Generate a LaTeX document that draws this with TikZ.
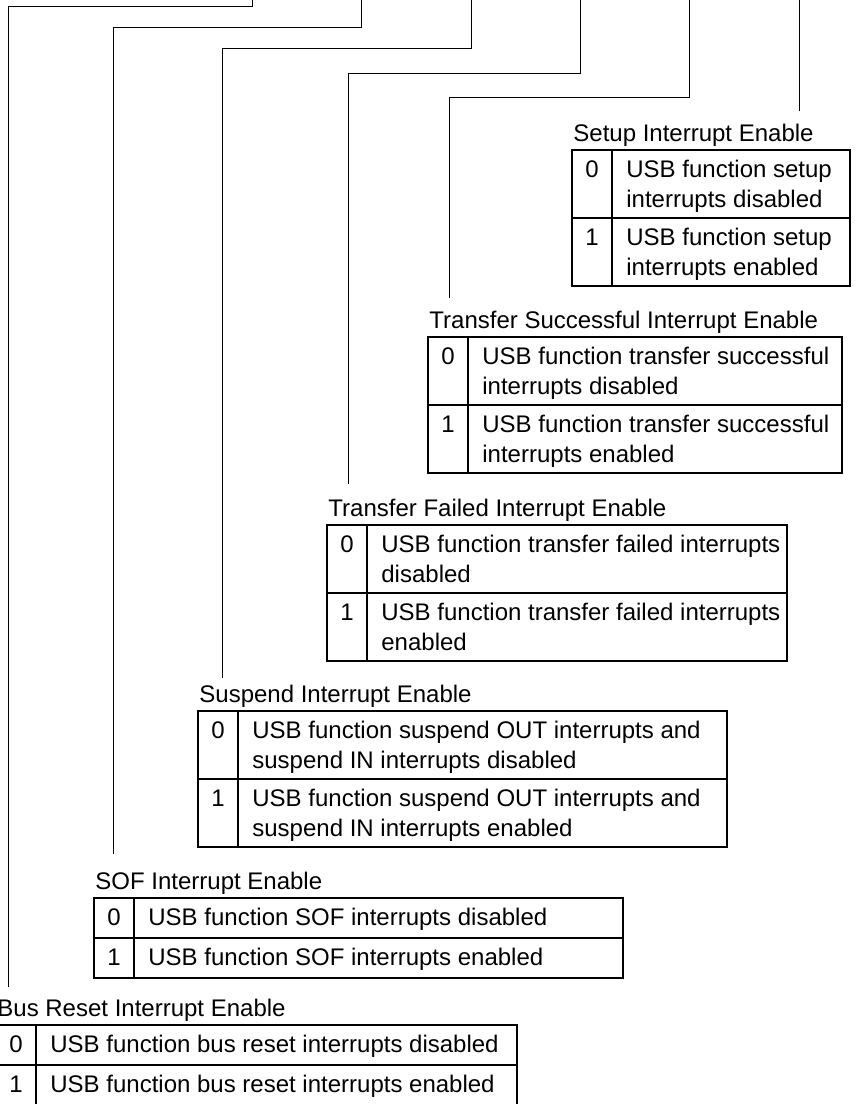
\documentclass[tikz,border=0pt]{standalone}
\usepackage{fontspec}
\setmainfont{Liberation Sans}
\tikzset{
  lead/.style={draw, line width=0.5pt},
  tbl/.style={line width=0.6pt},
  lbl/.style={anchor=base west, inner sep=0pt},
  bit/.style={anchor=base, inner sep=0pt},
  desc/.style={anchor=north west, align=left, inner xsep=7pt, inner ysep=5pt},
}

\begin{document}
\begin{tikzpicture}[x=0.5pt, y=-0.5pt, font=\fontsize{12}{15}\selectfont]
\useasboundingbox (0,0) rectangle (859,1104);

% Setup Interrupt Enable
\node[lbl] (setup) at (573,141) {Setup Interrupt Enable};
\draw[tbl] (572,150) rectangle (850,286);
\draw[tbl] (572,218) -- (850,218);
\draw[tbl] (612,150) -- (612,286);
\node[bit] (setup0) at (592,177.5) {0};
\node[desc] (setup0t) at (612,150) {USB function setup\\interrupts disabled};
\node[bit] (setup1) at (592,245.5) {1};
\node[desc] (setup1t) at (612,218) {USB function setup\\interrupts enabled};

% Transfer Successful Interrupt Enable
\node[lbl] (tsucc) at (429,328) {Transfer Successful Interrupt Enable};
\draw[tbl] (428,337) rectangle (842,473);
\draw[tbl] (428,405) -- (842,405);
\draw[tbl] (468,337) -- (468,473);
\node[bit] (tsucc0) at (448,364.5) {0};
\node[desc] (tsucc0t) at (468,337) {USB function transfer successful\\interrupts disabled};
\node[bit] (tsucc1) at (448,432.5) {1};
\node[desc] (tsucc1t) at (468,405) {USB function transfer successful\\interrupts enabled};

% Transfer Failed Interrupt Enable
\node[lbl] (tfail) at (328,516) {Transfer Failed Interrupt Enable};
\draw[tbl] (327,525) rectangle (787,661);
\draw[tbl] (327,593) -- (787,593);
\draw[tbl] (367,525) -- (367,661);
\node[bit] (tfail0) at (347,552.5) {0};
\node[desc] (tfail0t) at (367,525) {USB function transfer failed interrupts\\disabled};
\node[bit] (tfail1) at (347,620.5) {1};
\node[desc] (tfail1t) at (367,593) {USB function transfer failed interrupts\\enabled};

% Suspend Interrupt Enable
\node[lbl] (susp) at (199,702) {Suspend Interrupt Enable};
\draw[tbl] (198,711) rectangle (727,847);
\draw[tbl] (198,779) -- (727,779);
\draw[tbl] (238,711) -- (238,847);
\node[bit] (susp0) at (218,738.5) {0};
\node[desc] (susp0t) at (238,711) {USB function suspend OUT interrupts and\\suspend IN interrupts disabled};
\node[bit] (susp1) at (218,806.5) {1};
\node[desc] (susp1t) at (238,779) {USB function suspend OUT interrupts and\\suspend IN interrupts enabled};

% SOF Interrupt Enable
\node[lbl] (sof) at (95,889) {SOF Interrupt Enable};
\draw[tbl] (94,898) rectangle (623,978);
\draw[tbl] (94,938) -- (623,938);
\draw[tbl] (134,898) -- (134,978);
\node[bit] (sof0) at (114,925.5) {0};
\node[desc] (sof0t) at (134,898) {USB function SOF interrupts disabled};
\node[bit] (sof1) at (114,965.5) {1};
\node[desc] (sof1t) at (134,938) {USB function SOF interrupts enabled};

% Bus Reset Interrupt Enable
\node[lbl] (bus) at (-3,1016) {Bus Reset Interrupt Enable};
\draw[tbl] (-4,1025) rectangle (517,1105);
\draw[tbl] (-4,1065) -- (517,1065);
\draw[tbl] (36,1025) -- (36,1105);
\node[bit] (bus0) at (16,1052.5) {0};
\node[desc] (bus0t) at (36,1025) {USB function bus reset interrupts disabled};
\node[bit] (bus1) at (16,1092.5) {1};
\node[desc] (bus1t) at (36,1065) {USB function bus reset interrupts enabled};

% leads from the register bits
\coordinate (t1) at (252,0);
\coordinate (k1) at (8,6);
\coordinate (t2) at (361,0);
\coordinate (k2) at (113,27);
\coordinate (t3) at (471,0);
\coordinate (k3) at (222,48);
\coordinate (t4) at (580,0);
\coordinate (k4) at (348,73);
\coordinate (t5) at (689,0);
\coordinate (k5) at (449,97);
\coordinate (t6) at (799,0);
\draw[lead, shorten >=5.75pt] (t1) |- (k1) -- (k1 |- bus.north);
\draw[lead, shorten >=8.75pt] (t2) |- (k2) -- (k2 |- sof.north);
\draw[lead, shorten >=3.25pt] (t3) |- (k3) -- (k3 |- susp.north);
\draw[lead, shorten >=7.25pt] (t4) |- (k4) -- (k4 |- tfail.north);
\draw[lead, shorten >=6.25pt] (t5) |- (k5) -- (k5 |- tsucc.north);
\draw[lead, shorten >=6.25pt] (t6) -- (t6 |- setup.north);
\end{tikzpicture}
\end{document}
